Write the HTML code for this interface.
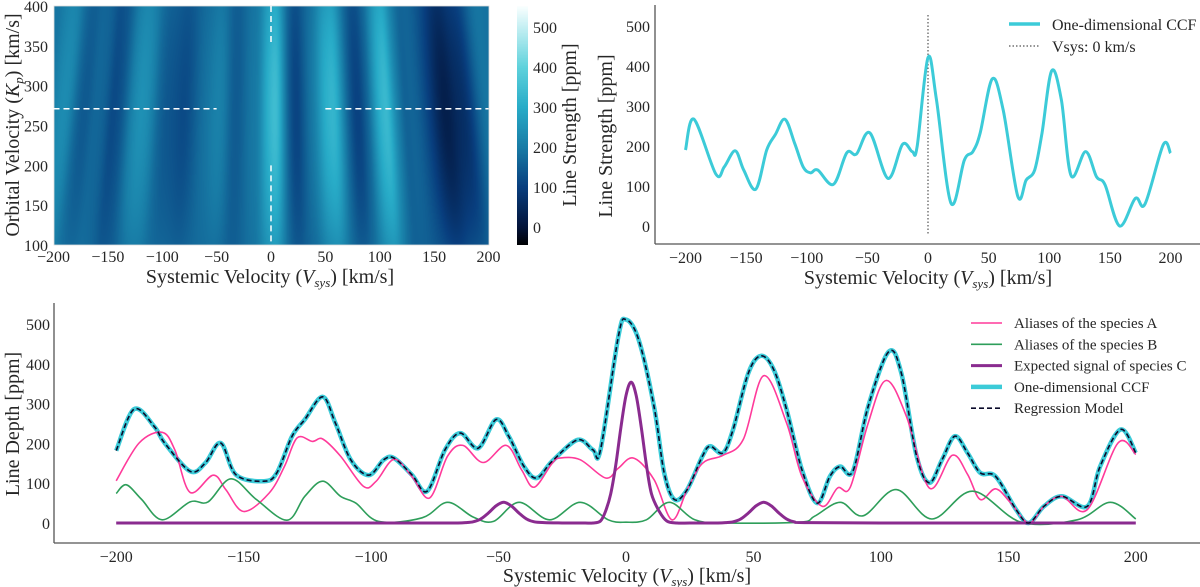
<!DOCTYPE html>
<html><head><meta charset="utf-8"><style>
body{margin:0;background:#fff;width:1200px;height:587px;overflow:hidden;position:relative;font-family:"Liberation Serif",serif}
#heat{position:absolute;left:54px;top:6px}
#cbar{position:absolute;left:517px;top:6px}
svg{position:absolute;left:0;top:0}
text{fill:#262626;font-family:"Liberation Serif",serif}
</style></head><body>
<canvas id="heat" width="435" height="239"></canvas>
<canvas id="cbar" width="11" height="239"></canvas>
<svg id="s" width="1200" height="587"></svg>
<script>
// ---- data ----
const ccfV=[-200,-193,-175,-168,-159,-152,-142,-133,-126,-118,-110,-103,-97,-91,-78,-67,-59,-48,-33,-21,-13,-9,0,7,19,30,37,43,53,62,74,81,88,94,102,110,118,130,139,146,158,171,179,194,200];
const ccfY=[190,267,130,148,188,140,92,190,228,267,207,148,133,140,104,183,180,233,119,204,186,198,421,315,57,165,186,232,368,290,75,115,140,232,388,315,126,186,123,103,0,69,55,203,182];

const bCcfV=[-200,-193,-185,-181,-171,-165,-159,-153,-142,-137,-131,-126,-119,-114,-108,-101,-95,-91,-84,-78,-71,-65,-58,-51,-46,-40,-35,-29,-19,-13,-10,-3,0,5,11,15,19,24,30,33,38,42,48,53,58,63,69,75,80,84,89,95,103,108,114,119,124,129,134,139,145,153,158,164,171,181,186,194,200];
const bCcfY=[182,286,242,201,130,151,201,121,105,126,218,260,317,251,159,120,159,163,121,80,184,226,188,260,218,142,113,155,209,184,184,469,511,460,293,126,59,84,168,193,176,235,377,420,385,285,134,50,117,142,130,293,430,377,168,101,159,218,176,126,117,34,0,42,67,42,142,235,176];

const aV=[-200,-191,-182,-177,-171,-162,-157,-150,-140,-134,-129,-123,-119,-112,-103,-98,-91,-84,-77,-70,-64,-56,-47,-41,-36,-29,-26,-18,-8,-3,3,11,18,24,30,38,46,54,63,69,77,83,88,95,102,110,119,128,134,139,145,151,158,164,171,181,193,200];
const aY=[106,201,228,184,77,120,84,29,75,142,214,205,211,168,92,105,160,117,63,168,195,152,195,134,90,150,163,159,113,138,163,109,8,84,150,170,210,370,251,117,42,88,90,251,358,268,88,170,122,59,86,50,0,42,67,34,201,172];

const bV=[-200,-196,-190,-182,-171,-164,-155,-145,-133,-126,-119,-112,-106,-97,-80,-70,-60,-52,-42,-30,-18,-7,0,8,17,27,39,68,74,84,93,106,120,136,155,177,190,200];
const bY=[74,96,59,8,53,53,111,59,7,67,105,67,50,4,13,52,15,4,52,8,52,8,2,8,52,8,0,2,17,52,18,84,10,80,2,8,52,10];

const cV=[-200,-100,-70,-66,-63,-60,-57,-54,-51,-48,-45,-42,-39,-36,-32,-25,-20,-16,-13,-10,-8,-6,-4,-2,0,2,4,6,8,10,13,16,20,25,32,36,39,42,45,48,51,54,57,60,63,66,70,100,200];
const cY=[0,0,0,0,1,3,10,25,43,52,43,25,10,3,1,0,0,0,0,5,30,73,146,240,320,354,320,240,146,73,30,5,0,0,0,0,1,3,10,25,43,52,43,25,10,3,1,0,0,0];

const cbTicks=[0,100,200,300,400,500];
const vTicks=[-200,-150,-100,-50,0,50,100,150,200];
const kpTicks=[100,150,200,250,300,350,400];
const yTicks=[0,100,200,300,400,500];

// ---- axes ----
const xH=v=>271+v*1.0875, yH=k=>245-(k-100)*239/300;
const xT=v=>928+v*1.2125, yT=y=>226-y*0.4;
const xB=v=>626+v*2.549,  yB=y=>523-y*0.398;
const cbY=v=>6+(552-v)*0.4;

const NS="http://www.w3.org/2000/svg", S=document.getElementById('s');
function mk(tag,attrs,parent){const e=document.createElementNS(NS,tag);for(const k in attrs)e.setAttribute(k,attrs[k]);(parent||S).appendChild(e);return e;}
function txt(x,y,s,size,anchor,parent){const t=mk('text',{x:x,y:y,'font-size':size,'text-anchor':anchor||'middle'},parent);t.textContent=s;return t;}
function smooth(xs,ys,fx,fy){
  const p=xs.map((v,i)=>[fx(v),fy(ys[i])]);let d='M'+p[0][0].toFixed(1)+','+p[0][1].toFixed(1);
  for(let i=0;i<p.length-1;i++){const p0=p[i-1]||p[i],p1=p[i],p2=p[i+1],p3=p[i+2]||p2;
    const c1=[p1[0]+(p2[0]-p0[0])/6,p1[1]+(p2[1]-p0[1])/6],c2=[p2[0]-(p3[0]-p1[0])/6,p2[1]-(p3[1]-p1[1])/6];
    d+=` C${c1[0].toFixed(1)},${c1[1].toFixed(1)} ${c2[0].toFixed(1)},${c2[1].toFixed(1)} ${p2[0].toFixed(1)},${p2[1].toFixed(1)}`;}
  return d;}
function interp(xs,ys,x){if(x<=xs[0])return ys[0];for(let i=0;i<xs.length-1;i++)if(x<=xs[i+1]){const t=(x-xs[i])/(xs[i+1]-xs[i]);const s=t*t*(3-2*t);return ys[i]+(ys[i+1]-ys[i])*s;}return ys[ys.length-1];}

// colormap
const cmV=[-47,0,100,200,300,400,552], cmC=[[0,0,0],[3,20,58],[8,62,126],[24,124,166],[40,172,200],[95,210,220],[250,255,255]];
function cmap(v){for(let i=0;i<cmV.length-1;i++)if(v<=cmV[i+1]||i==cmV.length-2){const t=Math.max(0,Math.min(1,(v-cmV[i])/(cmV[i+1]-cmV[i])));return cmC[i].map((c,j)=>Math.round(c+(cmC[i+1][j]-c)*t));}}

// heatmap
(function(){const c=document.getElementById('heat'),g=c.getContext('2d'),im=g.createImageData(435,239);
 for(let py=0;py<239;py++){const kp=400-py*300/239;const f=(kp-270)/170;const w=Math.min(0.6,f*f*0.5);
  for(let px=0;px<435;px++){const v=-200+px*400/435;
   let s=0;for(let k=-3;k<=3;k++)s+=interp(ccfV,ccfY,v*(1+(kp-270)/2500)+k*2.5);s/=7;
   const val=s*(1-w)+190*w*(0.9+0.1*Math.cos(v/15));
   const col=cmap(val);const o=(py*435+px)*4;im.data[o]=col[0];im.data[o+1]=col[1];im.data[o+2]=col[2];im.data[o+3]=255;}}
 g.putImageData(im,0,0);
 const cb=document.getElementById('cbar'),h=cb.getContext('2d');for(let py=0;py<239;py++){const col=cmap(552-py/0.4);h.fillStyle=`rgb(${col})`;h.fillRect(0,py,11,1);}
})();

// heatmap decorations
const gH=mk('g',{});
mk('rect',{x:54,y:6,width:435,height:239,fill:'none',stroke:'#ddd','stroke-width':0.8},gH);
mk('line',{x1:xH(0),x2:xH(0),y1:6,y2:yH(350),stroke:'#fff','stroke-width':1.5,'stroke-dasharray':'6,4'},gH);
mk('line',{x1:xH(0),x2:xH(0),y1:yH(200),y2:245,stroke:'#fff','stroke-width':1.5,'stroke-dasharray':'6,4'},gH);
mk('line',{x1:xH(-200),x2:xH(-50),y1:yH(271),y2:yH(271),stroke:'#fff','stroke-width':1.5,'stroke-dasharray':'6,4'},gH);
mk('line',{x1:xH(50),x2:xH(200),y1:yH(271),y2:yH(271),stroke:'#fff','stroke-width':1.5,'stroke-dasharray':'6,4'},gH);
vTicks.forEach(v=>txt(xH(v),262,v<0?'−'+(-v):''+v,16,'middle',gH));
kpTicks.forEach(k=>txt(48,yH(k)+6,''+k,16,'end',gH));
let t=txt(270,283,'Systemic Velocity (',20,'middle',gH);
mk('tspan',{'font-style':'italic'},t).textContent='V';mk('tspan',{'font-style':'italic','font-size':13,dy:4},t).textContent='sys';
mk('tspan',{dy:-4},t).textContent=') [km/s]';
t=txt(0,0,'Orbital Velocity (',20,'middle',gH);t.setAttribute('transform','translate(19,125) rotate(-90)');
mk('tspan',{'font-style':'italic'},t).textContent='K';mk('tspan',{'font-style':'italic','font-size':13,dy:4},t).textContent='p';
mk('tspan',{dy:-4},t).textContent=') [km/s]';
cbTicks.forEach(v=>txt(533,cbY(v)+6,''+v,16,'start',gH));
t=txt(0,0,'Line Strength [ppm]',20,'middle',gH);t.setAttribute('transform','translate(576,125) rotate(-90)');

// top-right
const gT=mk('g',{});
mk('line',{x1:655,x2:655,y1:5,y2:244,stroke:'#555','stroke-width':1.3},gT);
mk('line',{x1:655,x2:1200,y1:244,y2:244,stroke:'#555','stroke-width':1.3},gT);
vTicks.forEach(v=>txt(xT(v),263,v<0?'−'+(-v):''+v,16,'middle',gT));
yTicks.forEach(y=>txt(650,yT(y)+6,''+y,16,'end',gT));
mk('line',{x1:xT(0),x2:xT(0),y1:15,y2:235,stroke:'#555','stroke-width':1.2,'stroke-dasharray':'1.5,2'},gT);
let p=mk('path',{d:smooth(ccfV,ccfY,xT,yT),fill:'none',stroke:'#3ccbd8','stroke-width':3},gT);
t=txt(928,284,'Systemic Velocity (',20,'middle',gT);mk('tspan',{'font-style':'italic'},t).textContent='V';mk('tspan',{'font-style':'italic','font-size':13,dy:4},t).textContent='sys';mk('tspan',{dy:-4},t).textContent=') [km/s]';
t=txt(0,0,'Line Strength [ppm]',20,'middle',gT);t.setAttribute('transform','translate(612,136) rotate(-90)');
const lT=mk('g',{},gT);
mk('line',{x1:1009,x2:1040,y1:24,y2:24,stroke:'#3ccbd8','stroke-width':3.5},lT);txt(1052,30,'One-dimensional CCF',16,'start',lT);
mk('line',{x1:1009,x2:1040,y1:46,y2:46,stroke:'#555','stroke-width':1.2,'stroke-dasharray':'1.5,2'},lT);txt(1052,52,'Vsys: 0 km/s',16,'start',lT);

// bottom
const gB=mk('g',{});
mk('line',{x1:54,x2:54,y1:303,y2:543,stroke:'#555','stroke-width':1.3},gB);
mk('line',{x1:54,x2:1200,y1:543,y2:543,stroke:'#555','stroke-width':1.3},gB);
vTicks.forEach(v=>txt(xB(v),562,v<0?'−'+(-v):''+v,16,'middle',gB));
yTicks.forEach(y=>txt(50,yB(y)+6,''+y,16,'end',gB));
t=txt(627,582,'Systemic Velocity (',20,'middle',gB);mk('tspan',{'font-style':'italic'},t).textContent='V';mk('tspan',{'font-style':'italic','font-size':13,dy:4},t).textContent='sys';mk('tspan',{dy:-4},t).textContent=') [km/s]';
t=txt(0,0,'Line Depth [ppm]',20,'middle',gB);t.setAttribute('transform','translate(19,424) rotate(-90)');
p=mk('path',{d:smooth(bCcfV,bCcfY,xB,yB),fill:'none',stroke:'#3ccbd8','stroke-width':4.5},gB);
p=mk('path',{d:smooth(aV,aY,xB,yB),fill:'none',stroke:'#ff3a9a','stroke-width':1.6},gB);
p=mk('path',{d:smooth(bV,bY,xB,yB),fill:'none',stroke:'#2e9e5a','stroke-width':1.6},gB);
p=mk('path',{d:smooth(cV,cY,xB,yB),fill:'none',stroke:'#8a2b8f','stroke-width':3},gB);
p=mk('path',{d:smooth(bCcfV,bCcfY,xB,yB),fill:'none',stroke:'#0a0a2a','stroke-width':1.6,'stroke-dasharray':'5,3'},gB);
const lB=mk('g',{},gB);
const leg=[['Aliases of the species A','#ff3a9a',1.6,''],['Aliases of the species B','#2e9e5a',1.6,''],['Expected signal of species C','#8a2b8f',3,''],['One-dimensional CCF','#3ccbd8',4.5,''],['Regression Model','#0a0a2a',1.6,'5,3']];
leg.forEach((l,i)=>{const y=323+i*21.3;mk('line',{x1:971,x2:1002,y1:y,y2:y,stroke:l[1],'stroke-width':l[2],'stroke-dasharray':l[3]||'none'},lB);txt(1014,y+5,l[0],15,'start',lB);});
</script>
</body></html>
